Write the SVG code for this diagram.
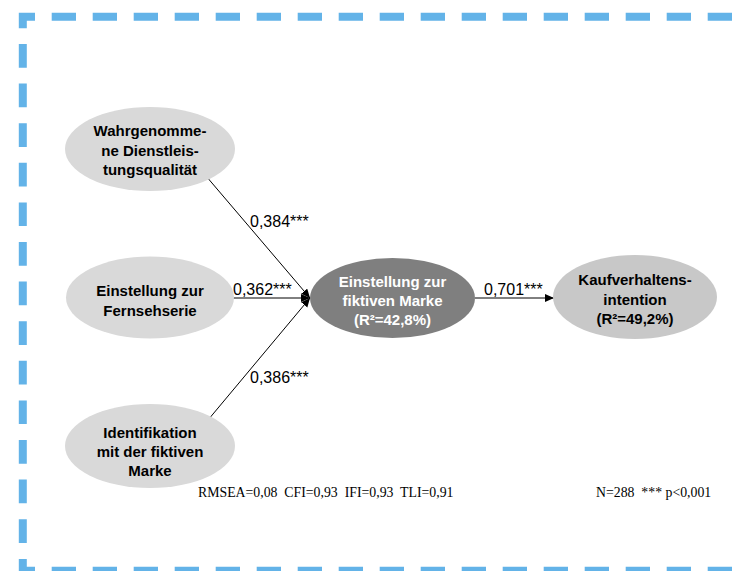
<svg xmlns="http://www.w3.org/2000/svg" width="747" height="571" viewBox="0 0 747 571">
<style>
.frame{fill:none;stroke:#63b3e8;stroke-width:8;stroke-linecap:butt}
.hz{stroke-dasharray:24.3 16.7}
.vt{stroke-dasharray:23.7 15.9}
.node-light{fill:#d9d9d9}
.node-mid{fill:#c8c8c8}
.node-dark{fill:#7f7f7f}
.lbl{font-family:"Liberation Sans",Arial,sans-serif;font-weight:bold;font-size:15px;text-anchor:middle;fill:#000}
.lbl-w{fill:#fff}
.edge{stroke:#000;stroke-width:1;fill:none}
.coef{font-family:"Liberation Sans",Arial,sans-serif;font-size:16px;fill:#000}
.foot{font-family:"Liberation Serif","Times New Roman",serif;font-size:13.8px;fill:#000;white-space:pre}
</style>
<defs>
<marker id="arr" markerUnits="userSpaceOnUse" markerWidth="10" markerHeight="9" refX="9" refY="4" orient="auto">
<path d="M0,0 L9,4 L0,8 z" fill="#000"/>
</marker>
</defs>
<g id="frame">
<path class="frame" d="M22.8,28.3 V16.7 H35"/>
<path class="frame hz" d="M51.7,16.7 H747"/>
<path class="frame vt" d="M22.8,44 V543"/>
<path class="frame" d="M22.8,559 V570.7 H35"/>
<path class="frame hz" d="M51.7,570.7 H747"/>
</g>
<g id="connectors">
<line class="edge" x1="206" x2="310" y1="176" y2="298" marker-end="url(#arr)"/>
<line class="edge" x1="232" x2="310" y1="298" y2="298" marker-end="url(#arr)"/>
<line class="edge" x1="208" x2="310" y1="420" y2="298" marker-end="url(#arr)"/>
<line class="edge" x1="475" x2="554" y1="298" y2="298" marker-end="url(#arr)"/>
<text class="coef" x="250" y="227">0,384***</text>
<text class="coef" x="233" y="295">0,362***</text>
<text class="coef" x="250" y="383">0,386***</text>
<text class="coef" x="484" y="295">0,701***</text>
</g>
<g id="n1">
<ellipse class="node-light" cx="150" cy="149" rx="85" ry="42"/>
<text class="lbl" x="150" y="136">Wahrgenomme-</text>
<text class="lbl" x="150" y="155.5">ne Dienstleis-</text>
<text class="lbl" x="150" y="175">tungsqualität</text>
</g>
<g id="n2">
<ellipse class="node-light" cx="150" cy="297.5" rx="84" ry="41"/>
<text class="lbl" x="150" y="296">Einstellung zur</text>
<text class="lbl" x="150" y="316">Fernsehserie</text>
</g>
<g id="n3">
<ellipse class="node-light" cx="150" cy="446" rx="85" ry="42"/>
<text class="lbl" x="150" y="438">Identifikation</text>
<text class="lbl" x="150" y="457">mit der fiktiven</text>
<text class="lbl" x="150" y="476">Marke</text>
</g>
<g id="n4">
<ellipse class="node-dark" cx="392.5" cy="298" rx="82.5" ry="40"/>
<text class="lbl lbl-w" x="392.5" y="286.5">Einstellung zur</text>
<text class="lbl lbl-w" x="392.5" y="305.5">fiktiven Marke</text>
<text class="lbl lbl-w" x="392.5" y="324.5">(R²=42,8%)</text>
</g>
<g id="n5">
<ellipse class="node-mid" cx="635" cy="297" rx="82" ry="42"/>
<text class="lbl" x="635" y="285">Kaufverhaltens-</text>
<text class="lbl" x="635" y="305">intention</text>
<text class="lbl" x="635" y="324">(R²=49,2%)</text>
</g>
<g id="footer">
<text class="foot" x="198" y="497">RMSEA=0,08  CFI=0,93  IFI=0,93  TLI=0,91</text>
<text class="foot" x="596" y="497">N=288  *** p&lt;0,001</text>
</g>
</svg>
